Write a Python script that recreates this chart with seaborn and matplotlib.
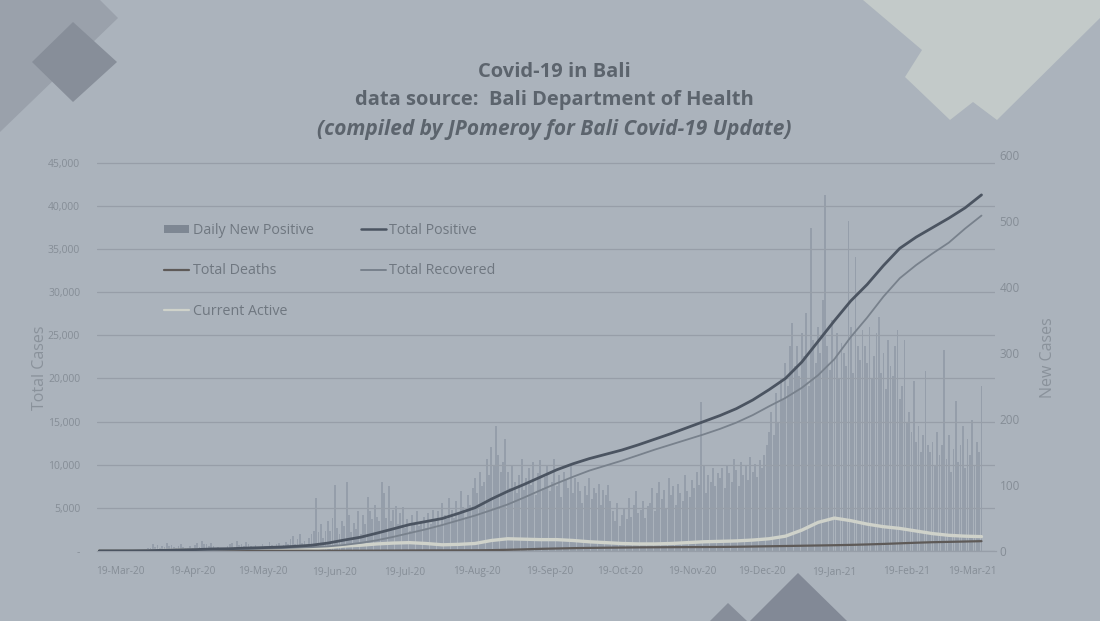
import numpy as np
import pandas as pd
import matplotlib
matplotlib.use("Agg")
import matplotlib.pyplot as plt
import seaborn as sns
from matplotlib.patches import Polygon, Patch
from matplotlib.lines import Line2D
from matplotlib.ticker import FuncFormatter, MultipleLocator

# ---------------- data ----------------
# Daily new positive cases (right axis), 10-Mar-2020 .. 23-Mar-2021
new_mar20 = [0,0,0,0,0,0,1,0,0,0,0,1,1,0,1,2,1,3,2,1,2,4]
new_apr20 = [5,10,6,9,4,8,6,12,8,9,6,5,7,10,6,5,4,7,4,9,12,6,15,11,10,8,12,7,5,6]
new_may20 = [3,4,2,8,10,12,6,15,9,11,7,14,10,8,5,9,6,4,11,8,7,13,9,6,10,12,8,9,14,11,18]
new_jun20 = [22,10,18,25,12,15,8,20,25,30,80,28,40,20,30,45,30,50,100,35,25,45,38,105,55,28,42,33,60,25]
new_jul20 = [55,40,82,60,48,70,52,45,105,88,50,98,45,62,68,40,58,66,35,48,30,55,42,60,38,45,52,35,58,40,62]
new_aug20 = [45,60,38,72,55,48,80,62,50,75,58,90,66,52,85,70,95,110,88,120,98,105,140,115,157,130,190,145,120,135,170]
new_sep20 = [120,95,130,105,88,115,140,92,110,125,100,135,85,118,138,96,112,128,90,105,140,98,115,82,120,108,95,130,88,110]
new_oct20 = [105,90,72,98,85,110,78,95,88,102,70,92,84,100,76,60,45,72,38,55,65,48,80,52,70,90,58,62,75,50,68]
new_nov20 = [72,95,60,88,105,78,92,65,110,85,98,70,102,88,75,115,90,82,108,95,120,100,225,130,88,115,105,125,98,118]
new_dec20 = [110,125,95,130,118,105,140,122,98,135,115,128,108,142,120,132,112,138,125,145,160,180,210,175,240,195,260,230,285,250,310]
new_jan21 = [345,280,310,265,330,295,360,250,490,320,285,340,300,380,540,310,275,350,290,330,260,315,300,280,500,340,270,445,310,290,335]
new_feb21 = [310,285,340,260,295,330,355,270,300,245,320,280,265,310,335,230,250,320,195,210,180,258,165,190,150,175,273,160]
new_mar21 = [150,165,130,180,145,160,304,140,175,120,155,228,135,160,190,125,170,145,198,130,165,150,250]

# Weekly totals (left axis), every 7 days from 10-Mar-2020
total_positive = [0,1,4,19,63,113,150,222,245,320,370,430,520,650,900,1250,1580,2050,2550,3050,
                  3400,3750,4350,5000,6000,6900,7700,8550,9400,10100,10700,11200,11700,12300,12950,
                  13600,14300,15000,15700,16500,17500,18700,20000,21900,24300,26700,29000,30900,
                  33100,35100,36400,37500,38600,39800,41300]
total_deaths = [0,0,0,2,2,2,3,4,4,4,4,4,4,5,6,9,14,22,30,40,50,52,56,60,80,120,170,230,270,310,
                340,360,380,400,410,420,430,440,450,470,500,530,560,590,620,650,690,740,800,870,
                940,1000,1040,1080,1120]
total_recovered = [0,0,0,2,11,31,57,98,151,196,256,306,366,425,514,681,916,1228,1620,2060,2500,
                   2998,3544,4090,4720,5380,6180,7020,7830,8590,9310,9890,10470,11100,11740,12330,
                   12920,13510,14150,14880,15750,16770,17740,18910,20380,22250,24810,27060,29500,
                   31630,33160,34500,35760,37400,38900]
current_active = [0,1,4,15,50,80,90,120,90,120,110,120,150,220,380,560,650,800,900,950,850,700,
                  750,850,1200,1400,1350,1300,1300,1200,1050,950,850,800,800,850,950,1050,1100,
                  1150,1250,1400,1700,2400,3300,3800,3500,3100,2800,2600,2300,2000,1800,1700,1650]

tick_dates = ["2020-03-19","2020-04-19","2020-05-19","2020-06-19","2020-07-19","2020-08-19",
              "2020-09-19","2020-10-19","2020-11-19","2020-12-19","2021-01-19","2021-02-19","2021-03-19"]
tick_labels = ["19-Mar-20","19-Apr-20","19-May-20","19-Jun-20","19-Jul-20","19-Aug-20",
               "19-Sep-20","19-Oct-20","19-Nov-20","19-Dec-20","19-Jan-21","19-Feb-21","19-Mar-21"]

daily_new = (new_mar20 + new_apr20 + new_may20 + new_jun20 + new_jul20 + new_aug20 + new_sep20 +
             new_oct20 + new_nov20 + new_dec20 + new_jan21 + new_feb21 + new_mar21)
daily_df = pd.DataFrame({"date": pd.date_range("2020-03-10", periods=len(daily_new), freq="D"),
                         "new": daily_new})
weekly_df = pd.DataFrame({"date": pd.date_range("2020-03-10", periods=len(total_positive), freq="7D"),
                          "positive": total_positive, "deaths": total_deaths,
                          "recovered": total_recovered, "active": current_active})

# ---------------- style ----------------
BG = "#abb3bc"
GRID = "#979ea8"
BAR = "#959eaa"
POS = "#4b5461"
REC = "#78818c"
DEA = "#5e5a58"
ACT = "#cfd2ca"
TITLE = "#5c646d"
TICK = "#858d96"

sns.set_theme(style="white")
plt.rcParams["font.family"] = ["Open Sans", "DejaVu Sans"]

fig = plt.figure(figsize=(11, 6.21), dpi=100, facecolor=BG)

# decorative shapes (figure pixel coords converted to fractions)
W, H = 1100, 621
def poly(pts, color, z=0):
    p = Polygon([(x / W, 1 - y / H) for x, y in pts], closed=True, transform=fig.transFigure,
                facecolor=color, edgecolor="none", zorder=z)
    fig.patches.append(p)

poly([(0, 0), (100, 0), (118, 18), (0, 132)], "#9aa1ab")
poly([(32, 62), (73, 22), (117, 62), (73, 102)], "#878e99")
poly([(863, 0), (922, 50), (905, 77), (950, 120), (973, 102), (997, 120), (1100, 18), (1100, 0)], "#c3cac9")
poly([(750, 621), (798, 573), (847, 621)], "#828996")
poly([(710, 621), (728, 603), (747, 621)], "#878e9a")

ax = fig.add_axes([0.088, 0.113, 0.817, 0.637])
ax2 = ax.twinx()

# bars on secondary axis
ax2.bar(daily_df["date"], daily_df["new"], width=0.8, color=BAR, linewidth=0, zorder=1)
ax2.set_ylim(0, 600)

# lines on primary axis
sns.lineplot(data=weekly_df, x="date", y="active", ax=ax, color=ACT, linewidth=2.4, zorder=3)
sns.lineplot(data=weekly_df, x="date", y="deaths", ax=ax, color=DEA, linewidth=1.6, zorder=4)
sns.lineplot(data=weekly_df, x="date", y="recovered", ax=ax, color=REC, linewidth=1.3, zorder=4)
sns.lineplot(data=weekly_df, x="date", y="positive", ax=ax, color=POS, linewidth=2.0, zorder=5)

ax.set_zorder(ax2.get_zorder() + 1)
ax.patch.set_visible(False)
ax2.patch.set_visible(False)

ax.set_ylim(0, 45900)
ax.set_xlim(pd.Timestamp("2020-03-09"), pd.Timestamp("2021-03-29"))
ax.yaxis.set_major_locator(MultipleLocator(5000))
ax.yaxis.set_major_formatter(FuncFormatter(lambda v, p: "-" if v == 0 else f"{int(v):,}"))
ax2.yaxis.set_major_locator(MultipleLocator(100))
ax.grid(axis="y", color=GRID, linewidth=0.9)
ax.grid(axis="x", visible=False)
ax2.grid(False)

ax.set_xticks(pd.to_datetime(tick_dates))
ax.set_xticklabels(tick_labels)

ax.tick_params(axis="y", length=0, pad=12, labelsize=7.5, labelcolor=TICK)
ax.tick_params(axis="x", length=0, pad=11, labelsize=7.3, labelcolor=TICK)
ax2.tick_params(axis="y", length=0, pad=3, labelsize=8.5, labelcolor=TICK)

for a in (ax, ax2):
    for s in a.spines.values():
        s.set_visible(False)
ax.spines["bottom"].set_visible(True)
ax.spines["bottom"].set_color(GRID)
ax.spines["bottom"].set_linewidth(0.9)

ax.set_xlabel("")
ax.set_ylabel("")
fig.text(40 / W, 1 - 368 / H, "Total Cases", rotation=90, ha="center", va="center",
         fontsize=11.5, color="#8a929b")
fig.text(1048 / W, 1 - 358 / H, "New Cases", rotation=90, ha="center", va="center",
         fontsize=11.5, color="#8a929b")

# titles
fig.text(0.504, 1 - 72 / H, "Covid-19 in Bali", ha="center", va="center",
         fontsize=14.5, fontweight="bold", color=TITLE)
fig.text(0.504, 1 - 100 / H, "data source:  Bali Department of Health", ha="center", va="center",
         fontsize=14.5, fontweight="bold", color=TITLE)
fig.text(0.504, 1 - 130 / H, "(compiled by JPomeroy for Bali Covid-19 Update)", ha="center",
         va="center", fontsize=15, fontweight="bold", fontstyle="italic", color=TITLE)

# legend
handles = [Patch(facecolor="#7e8793", edgecolor="none"),
           Line2D([], [], color=DEA, linewidth=1.6),
           Line2D([], [], color=ACT, linewidth=1.6),
           Line2D([], [], color=POS, linewidth=1.8),
           Line2D([], [], color=REC, linewidth=1.4)]
labels = ["Daily New Positive", "Total Deaths", "Current Active", "Total Positive", "Total Recovered"]
leg = fig.legend(handles, labels, ncol=2, loc="upper left", bbox_to_anchor=(164 / W, 1 - 223 / H),
                 frameon=False, fontsize=10.3, labelcolor="#6f7780", labelspacing=1.78,
                 handlelength=1.75, handleheight=0.55, handletextpad=0.25, columnspacing=3.3,
                 borderpad=0, borderaxespad=0)

fig.savefig("out.png", dpi=100, facecolor=BG)
